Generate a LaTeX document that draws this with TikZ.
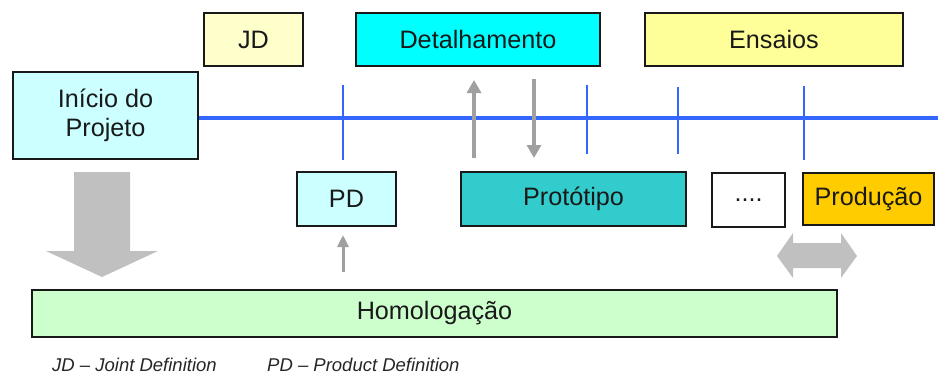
\documentclass[tikz,border=0pt]{standalone}
\usepackage{fontspec}
\setmainfont{Liberation Sans}
\usetikzlibrary{arrows.meta}
\definecolor{jdc}{HTML}{FFFFCC}
\definecolor{detc}{HTML}{00FFFF}
\definecolor{ensc}{HTML}{FFFF99}
\definecolor{inic}{HTML}{CCFFFF}
\definecolor{protc}{HTML}{33CCCC}
\definecolor{prodc}{HTML}{FFCC00}
\definecolor{homc}{HTML}{CCFFCC}
\definecolor{bluel}{HTML}{3366FF}
\definecolor{thinarr}{HTML}{A0A0A0}
\definecolor{bigarr}{HTML}{C0C0C0}
\tikzset{
  phase/.style={draw=black!90, line width=1.5pt, inner sep=0pt, align=center,
    font=\fontsize{25.2}{29.4}\selectfont, text=black!90},
  tl/.style={draw=bluel, line width=3.3pt},
  tick/.style={draw=bluel, line width=2pt},
  thin/.style={draw=thinarr, line width=4pt, -{Triangle[width=14pt,length=13pt]}},
  thinsmall/.style={draw=thinarr, line width=3pt, -{Triangle[width=11pt,length=12pt]}},
  big/.style={fill=bigarr, draw=none},
  note/.style={font=\fontsize{18.5}{22}\selectfont\itshape, anchor=base west, inner sep=0pt, text=black!85}
}
\begin{document}
\begin{tikzpicture}[x=1pt,y=-1pt]
\useasboundingbox (0,0) rectangle (938,375);
% timeline
\node[phase, fill=inic, minimum width=185, minimum height=87] (ini) at (105.5,115.5) {Início do\\Projeto};
\coordinate (tend) at (938,118);
\draw[tl] (ini.east |- tend) -- (tend);
% ticks
\coordinate (t1a) at (343,85); \coordinate (t1b) at (343,160);
\coordinate (t2a) at (587,85); \coordinate (t2b) at (587,154);
\coordinate (t3a) at (678,87); \coordinate (t3b) at (678,154);
\coordinate (t4a) at (804,86); \coordinate (t4b) at (804,160);
\draw[tick] (t1a) -- (t1b);
\draw[tick] (t2a) -- (t2b);
\draw[tick] (t3a) -- (t3b);
\draw[tick] (t4a) -- (t4b);
% top boxes
\node[phase, fill=jdc, minimum width=99, minimum height=53] (jd) at (253.5,39.5) {JD};
\node[phase, fill=detc, minimum width=244, minimum height=53] (det) at (478,39.5) {Detalhamento};
\node[phase, fill=ensc, minimum width=258, minimum height=53] (ens) at (774,39.5) {Ensaios};
% bottom boxes
\node[phase, fill=inic, minimum width=99, minimum height=54] (pd) at (346.5,199) {PD};
\node[phase, fill=protc, minimum width=225, minimum height=54] (prot) at (573.5,199) {Protótipo};
\node[phase, fill=white, minimum width=73, minimum height=54] (dots) at (748.5,200) {....};
\node[phase, fill=prodc, minimum width=131, minimum height=52] (prod) at (868.5,199) {Produção};
\node[phase, fill=homc, minimum width=805, minimum height=47] (hom) at (434.5,313.5) {Homologação};
% thin arrows
\coordinate (upa) at (474,158); \coordinate (upb) at (474,80);
\coordinate (dna) at (534,79); \coordinate (dnb) at (534,158);
\draw[thin] (upa) -- (upb);
\draw[thin] (dna) -- (dnb);
\coordinate (pda) at (343,272); \coordinate (pdb) at (343,235);
\draw[thinsmall] (pda) -- (pdb);
% big down arrow
\fill[big] (74,172) -- (130,172) -- (130,251) -- (158,251) -- (102,277) -- (46,251) -- (74,251) -- cycle;
% double arrow
\fill[big] (777,256) -- (793,233) -- (793,243) -- (841,243) -- (841,233) -- (857,256)
  -- (841,278) -- (841,268) -- (793,268) -- (793,278) -- cycle;
% notes
\node[note] (n1) at (52,371) {JD – Joint Definition};
\node[note] (n2) at (267,371) {PD – Product Definition};
\end{tikzpicture}
\end{document}
